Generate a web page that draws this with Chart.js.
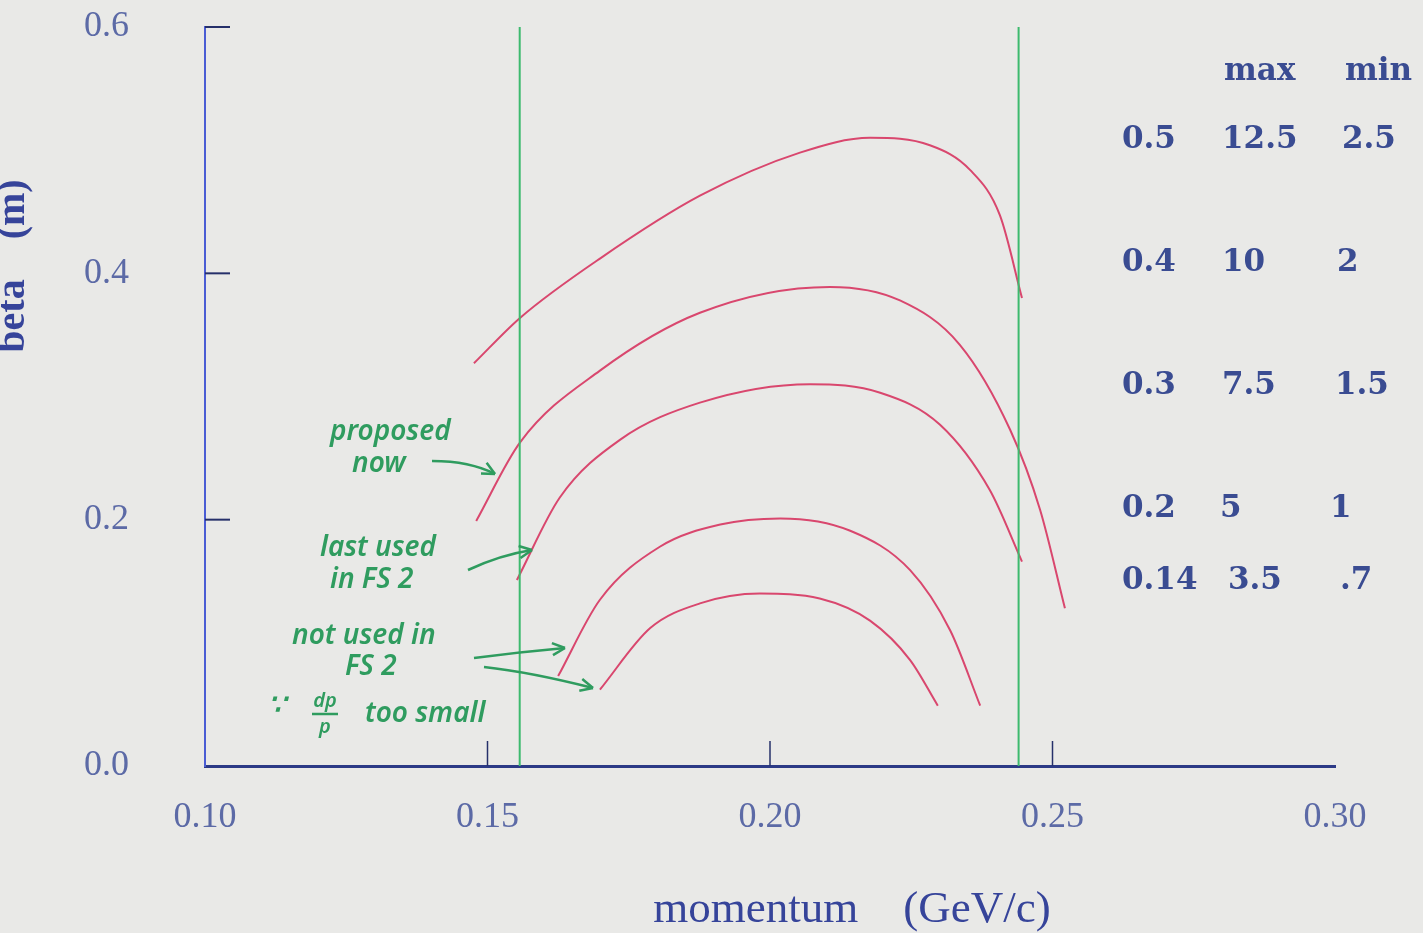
<!DOCTYPE html>
<html>
<head>
<meta charset="utf-8">
<script src="https://cdn.jsdelivr.net/npm/chart.js@4"></script>
<style>
  html, body { margin: 0; padding: 0; background: #e9e9e7; }
  #wrap { width: 1423px; height: 933px; }
</style>
</head>
<body>
<div id="wrap"><canvas id="chart"></canvas></div>
<script>
// axis ticks
const xTicks = [0.10, 0.15, 0.20, 0.25, 0.30];
const yTicks = [0.0, 0.2, 0.4, 0.6];

// table on the right: beta max, and the max / min columns
const betaLabels = ['0.5', '0.4', '0.3', '0.2', '0.14'];
const maxVals = ['12.5', '10', '7.5', '5', '3.5'];
const minVals = ['2.5', '2', '1.5', '1', '.7'];

// momentum window (green lines)
const cutLines = [0.1557, 0.2440];

// beta curves: momentum (GeV/c) and beta (m)
const p050 = [0.1476, 0.1558, 0.1699, 0.1876, 0.2053, 0.2177, 0.2283, 0.2354, 0.2407, 0.2446];
const b050 = [0.327, 0.364, 0.412, 0.463, 0.498, 0.510, 0.504, 0.484, 0.447, 0.380];
const p040 = [0.1480, 0.1558, 0.1699, 0.1876, 0.2106, 0.2230, 0.2336, 0.2425, 0.2478, 0.2522];
const b040 = [0.199, 0.263, 0.321, 0.368, 0.389, 0.378, 0.342, 0.273, 0.208, 0.128];
const p030 = [0.1552, 0.1628, 0.1735, 0.1876, 0.2071, 0.2195, 0.2301, 0.2389, 0.2446];
const b030 = [0.151, 0.218, 0.265, 0.295, 0.310, 0.303, 0.277, 0.224, 0.166];
const p020 = [0.1625, 0.1699, 0.1805, 0.1912, 0.2018, 0.2142, 0.2248, 0.2319, 0.2372];
const b020 = [0.073, 0.135, 0.178, 0.196, 0.201, 0.191, 0.159, 0.110, 0.049];
const p014 = [0.1699, 0.1788, 0.1876, 0.1982, 0.2088, 0.2177, 0.2248, 0.2297];
const b014 = [0.062, 0.112, 0.132, 0.140, 0.136, 0.118, 0.086, 0.049];

const curveColor = '#d9476e';
const greenColor = '#3dba6e';
const inkColor = '#2f9c5f';
const navy = '#36449a';

function pts(xs, ys) {
  return xs.map((x, i) => ({ x: x, y: ys[i] }));
}

function curve(xs, ys) {
  return {
    data: pts(xs, ys),
    borderColor: curveColor,
    borderWidth: 2,
    pointRadius: 0,
    showLine: true,
    fill: false,
    cubicInterpolationMode: 'monotone'
  };
}

function vline(x) {
  return {
    data: [{ x: x, y: yTicks[0] }, { x: x, y: yTicks[yTicks.length - 1] }],
    borderColor: greenColor,
    borderWidth: 2,
    pointRadius: 0,
    showLine: true
  };
}

// background, inner ticks, titles, table and handwritten notes
const decor = {
  id: 'decor',
  beforeDraw(chart) {
    const c = chart.ctx;
    c.save();
    c.fillStyle = '#e9e9e7';
    c.fillRect(0, 0, chart.width, chart.height);
    c.restore();
  },
  afterDraw(chart) {
    const c = chart.ctx;
    const xs = chart.scales.x, ys = chart.scales.y;
    const area = chart.chartArea;
    c.save();

    // inward ticks
    c.strokeStyle = '#26306a';
    c.lineWidth = 2;
    yTicks.slice(1).forEach(v => {
      const py = ys.getPixelForValue(v);
      c.beginPath(); c.moveTo(area.left, py); c.lineTo(area.left + 25, py); c.stroke();
    });
    c.lineWidth = 1.5;
    xTicks.slice(1, -1).forEach(v => {
      const px = xs.getPixelForValue(v);
      c.beginPath(); c.moveTo(px, area.bottom); c.lineTo(px, area.bottom - 25); c.stroke();
    });

    // axis titles
    c.fillStyle = navy;
    c.font = '45px "Liberation Serif", serif';
    c.textAlign = 'center';
    c.textBaseline = 'middle';
    c.fillText('momentum    (GeV/c)', 852, 910);
    c.save();
    c.translate(14, 266);
    c.rotate(-Math.PI / 2);
    c.font = 'bold 40px "Liberation Serif", serif';
    c.fillText('beta    (m)', 0, 0);
    c.restore();

    // table
    c.font = 'bold 31px "DejaVu Serif", serif';
    c.fillStyle = '#3a4c92';
    c.textAlign = 'left';
    c.fillText('max', 1224, 72);
    c.fillText('min', 1345, 72);
    const rowY = [140, 263, 386, 509, 581];
    const maxX = [1222, 1222, 1222, 1220, 1228];
    const minX = [1342, 1337, 1335, 1330, 1340];
    betaLabels.forEach((b, i) => {
      c.fillText(b, 1122, rowY[i]);
      c.fillText(maxVals[i], maxX[i], rowY[i]);
      c.fillText(minVals[i], minX[i], rowY[i]);
    });

    // handwritten notes
    c.fillStyle = inkColor;
    c.strokeStyle = inkColor;
    c.lineWidth = 2.5;
    c.font = 'italic 600 28px "Noto Sans", sans-serif';
    c.textAlign = 'left';
    c.fillText('proposed', 330, 432);
    c.fillText('now', 352, 464);
    c.fillText('last used', 320, 548);
    c.fillText('in FS 2', 330, 580);
    c.fillText('not used in', 292, 636);
    c.fillText('FS 2', 345, 667);
    c.fillText('\u2235', 268, 706);
    c.font = 'italic 600 20px "Noto Sans", sans-serif';
    c.textAlign = 'center';
    c.fillText('dp', 325, 701);
    c.fillText('p', 325, 727);
    c.beginPath(); c.moveTo(312, 714); c.lineTo(338, 714); c.stroke();
    c.font = 'italic 600 28px "Noto Sans", sans-serif';
    c.textAlign = 'left';
    c.fillText('too small', 365, 714);

    function arrow(x0, y0, cx, cy, x1, y1) {
      c.beginPath();
      c.moveTo(x0, y0);
      c.quadraticCurveTo(cx, cy, x1, y1);
      c.stroke();
      const a = Math.atan2(y1 - cy, x1 - cx);
      c.beginPath();
      c.moveTo(x1, y1);
      c.lineTo(x1 - 14 * Math.cos(a - 0.45), y1 - 14 * Math.sin(a - 0.45));
      c.moveTo(x1, y1);
      c.lineTo(x1 - 14 * Math.cos(a + 0.45), y1 - 14 * Math.sin(a + 0.45));
      c.stroke();
    }
    arrow(432, 461, 470, 461, 495, 474);
    arrow(468, 570, 500, 555, 532, 550);
    arrow(474, 658, 520, 652, 565, 648);
    arrow(484, 667, 530, 672, 593, 688);

    c.restore();
  }
};

new Chart(document.getElementById('chart'), {
  type: 'scatter',
  data: {
    datasets: [
      vline(cutLines[0]),
      vline(cutLines[1]),
      curve(p050, b050),
      curve(p040, b040),
      curve(p030, b030),
      curve(p020, b020),
      curve(p014, b014)
    ]
  },
  options: {
    responsive: true,
    maintainAspectRatio: false,
    animation: false,
    layout: { padding: { left: 0, right: 88, top: 27, bottom: 0 } },
    plugins: { legend: { display: false }, tooltip: { enabled: false } },
    scales: {
      x: {
        type: 'linear',
        min: xTicks[0],
        max: xTicks[xTicks.length - 1],
        afterFit: s => { s.height = 167; s.paddingLeft = 0; s.paddingRight = 0; },
        afterBuildTicks: s => { s.ticks = xTicks.map(v => ({ value: v })); },
        grid: { display: false, drawTicks: false },
        border: { display: true, color: '#2c3a86', width: 3 },
        ticks: {
          padding: 30,
          color: '#5c6aa6',
          font: { family: '"Liberation Serif", serif', size: 36 },
          callback: v => v.toFixed(2)
        }
      },
      y: {
        type: 'linear',
        min: yTicks[0],
        max: yTicks[yTicks.length - 1],
        afterFit: s => { s.width = 205; s.paddingTop = 0; s.paddingBottom = 0; },
        afterBuildTicks: s => { s.ticks = yTicks.map(v => ({ value: v })); },
        grid: { display: false, drawTicks: false },
        border: { display: true, color: '#4a5cd4', width: 2 },
        ticks: {
          padding: 76,
          color: '#5c6aa6',
          font: { family: '"Liberation Serif", serif', size: 36 },
          callback: v => v.toFixed(1)
        }
      }
    }
  },
  plugins: [decor]
});
</script>
</body>
</html>
